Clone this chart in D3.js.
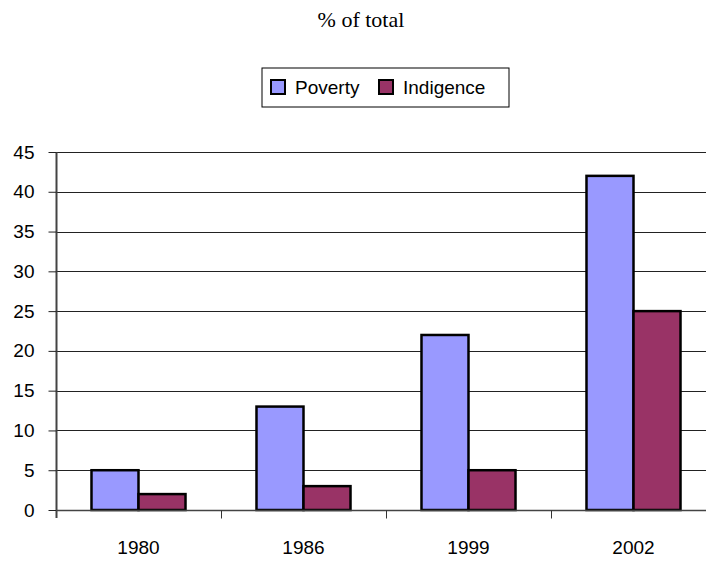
<!DOCTYPE html>
<html>
<head>
<meta charset="utf-8">
<script src="https://cdn.jsdelivr.net/npm/d3@7"></script>
<style>
body{margin:0;background:#fff;}
text{font-family:"Liberation Sans",Arial,sans-serif;}
</style>
</head>
<body>
<svg id="chart" width="706" height="563"></svg>
<script>
var categories = ["1980","1986","1999","2002"];
var seriesNames = ["Poverty","Indigence"];
var poverty = [5,13,22,42];
var indigence = [2,3,5,25];
var yTicks = [0,5,10,15,20,25,30,35,40,45];
var colors = ["#9999ff","#993366"];

var svg = d3.select("#chart");
var plotLeft = 56, plotRight = 716, plotTop = 152, plotBottom = 510;

var x0 = d3.scaleBand().domain(categories).range([plotLeft,plotRight]).paddingInner(0).paddingOuter(0);
var x1 = d3.scaleBand().domain(seriesNames).range([0,x0.bandwidth()]).paddingInner(0).paddingOuter(0.755);
var y = d3.scaleLinear().domain([0,45]).range([plotBottom,plotTop]);

// title
svg.append("text").attr("x",361).attr("y",27).attr("text-anchor","middle")
  .style("font-family","'Liberation Serif','Times New Roman',serif").style("font-size","22px")
  .text("% of total");

// gridlines
svg.append("g").selectAll("line").data(yTicks.filter(function(d){return d>0;})).enter().append("line")
  .attr("x1",plotLeft).attr("x2",plotRight)
  .attr("y1",function(d){return Math.round(y(d))+0.5;})
  .attr("y2",function(d){return Math.round(y(d))+0.5;})
  .attr("stroke","#222").attr("stroke-width",1);

// y axis
var yAxis = d3.axisLeft(y).tickValues(yTicks).tickSize(8).tickPadding(14).tickFormat(d3.format("d"));
var gy = svg.append("g").attr("transform","translate("+(plotLeft+0.5)+",0)").call(yAxis);
gy.select(".domain").attr("stroke","#444").attr("stroke-width",2).attr("d","M0,"+plotTop+"V"+(plotBottom+8));
gy.selectAll(".tick line").attr("stroke","#222");
gy.selectAll("text").style("font-size","19px").attr("fill","#000").attr("font-family",null);

// bars
var data = categories.map(function(c,i){return {cat:c, vals:[poverty[i],indigence[i]]};});
var groups = svg.append("g").selectAll("g").data(data).enter().append("g")
  .attr("transform",function(d){return "translate("+x0(d.cat)+",0)";});
groups.selectAll("rect").data(function(d){return d.vals.map(function(v,j){return {name:seriesNames[j],v:v,j:j};});})
  .enter().append("rect")
  .attr("x",function(d){return x1(d.name);})
  .attr("width",x1.bandwidth())
  .attr("y",function(d){return y(d.v);})
  .attr("height",function(d){return y(0)-y(d.v);})
  .attr("fill",function(d){return colors[d.j];})
  .attr("stroke","#000").attr("stroke-width",2.5);

// x axis
var xAxis = d3.axisBottom(x0).tickSize(0).tickPadding(30);
var gx = svg.append("g").attr("transform","translate(0,"+(plotBottom+0.5)+")").call(xAxis);
gx.select(".domain").attr("stroke","#444").attr("stroke-width",1.5).attr("d","M"+plotLeft+",0H"+plotRight);
gx.selectAll("text").style("font-size","19px").attr("fill","#000").attr("font-family",null);
// category separator ticks
gx.append("g").selectAll("line").data(categories.slice(1)).enter().append("line")
  .attr("x1",function(d){return Math.round(x0(d))+0.5;})
  .attr("x2",function(d){return Math.round(x0(d))+0.5;})
  .attr("y1",0).attr("y2",8).attr("stroke","#333");

// legend
var lg = svg.append("g").attr("transform","translate(262,68)");
lg.append("rect").attr("width",247).attr("height",39).attr("fill","#fff").attr("stroke","#000").attr("stroke-width",1);
var items = lg.selectAll("g").data(seriesNames).enter().append("g")
  .attr("transform",function(d,i){return "translate("+(i===0?9:117)+",0)";});
items.append("rect").attr("x",0).attr("y",12).attr("width",14).attr("height",14)
  .attr("fill",function(d,i){return colors[i];}).attr("stroke","#000").attr("stroke-width",2);
items.append("text").attr("x",24).attr("y",26).style("font-size","19px").text(function(d){return d;});
</script>
</body>
</html>
